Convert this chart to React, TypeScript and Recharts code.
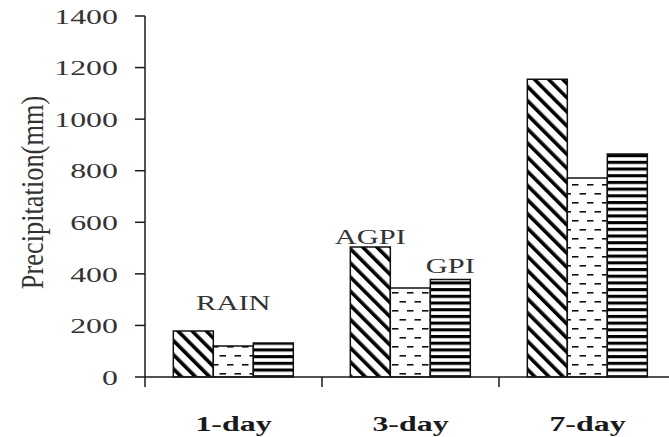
import React from "react";
import {
  BarChart,
  Bar,
  XAxis,
  YAxis,
  LabelList,
} from "recharts";

// values (mm)
const categories = ["1-day", "3-day", "7-day"];
const agpiValues = [178, 504, 1155];
const rainValues = [120, 345, 772];
const gpiValues = [132, 378, 865];
const yTicks = [0, 200, 400, 600, 800, 1000, 1200, 1400];

const data = categories.map((name, i) => ({
  name,
  AGPI: agpiValues[i],
  RAIN: rainValues[i],
  GPI: gpiValues[i],
}));

const FONT = '"Liberation Serif", "Times New Roman", serif';
const INK = "#1a1a1a";
const SOFT = "#333";
const STRETCH = 1.45; // the source image is widened horizontally

// where the in-chart series names sit (category index + lift above bar top)
const series = [
  { key: "AGPI", fill: "url(#diag)", labelAt: 1, lift: 3 },
  { key: "RAIN", fill: "url(#dash)", labelAt: 0, lift: 36 },
  { key: "GPI", fill: "url(#hstripe)", labelAt: 1, lift: 7 },
];

const YTick = ({ x, y, payload }: any) => (
  <g transform={`translate(${x},${y}) scale(${STRETCH},1)`}>
    <text textAnchor="end" dy="0.35em" fontFamily={FONT} fontSize={22} fill={SOFT}>
      {payload.value}
    </text>
  </g>
);

const XTick = ({ x, y, payload }: any) => {
  const half = payload.offset || 88.5;
  return (
    <g>
      <line x1={x - half} x2={x - half} y1={y} y2={y + 10} stroke={INK} strokeWidth={1.5} />
      <g transform={`translate(${x},${y + 54}) scale(${STRETCH},1)`}>
        <text textAnchor="middle" fontFamily={FONT} fontSize={22} fontWeight="bold" fill={INK}>
          {payload.value}
        </text>
      </g>
    </g>
  );
};

const YTitle = ({ viewBox }: any) => {
  const cy = viewBox.y + viewBox.height / 2 - 4;
  return (
    <g transform={`translate(${viewBox.x + 32},${cy}) scale(${STRETCH},1.2) rotate(-90)`}>
      <text textAnchor="middle" dy="0.33em" fontFamily={FONT} fontSize={22} fill={SOFT}>
        Precipitation(mm)
      </text>
    </g>
  );
};

const seriesLabel = (name: string, at: number, lift: number) => (props: any) => {
  const { x, y, width, index } = props;
  if (index !== at) return null;
  return (
    <g transform={`translate(${x + width / 2},${y - lift}) scale(${STRETCH},1)`}>
      <text textAnchor="middle" fontFamily={FONT} fontSize={21} fill={SOFT}>
        {name}
      </text>
    </g>
  );
};

export default function App() {
  return (
    <div
      style={{
        position: "fixed",
        left: 0,
        top: 0,
        width: 669,
        height: 437,
        overflow: "hidden",
        background: "#fff",
      }}
    >
      <BarChart
        width={690}
        height={437}
        data={data}
        margin={{ top: 16, right: 14, bottom: 0, left: 0 }}
        barCategoryGap="16%"
        barGap={0}
      >
        <defs>
          <pattern id="diag" patternUnits="userSpaceOnUse" width={10} height={10} patternTransform="rotate(-45)">
            <rect width={10} height={10} fill="#fff" />
            <rect width={3.6} height={10} fill="#000" />
          </pattern>
          <pattern id="dash" patternUnits="userSpaceOnUse" width={15} height={18}>
            <rect width={15} height={18} fill="#fff" />
            <rect x={2} y={4} width={6.5} height={1.6} fill="#111" />
            <rect x={9.5} y={13} width={6.5} height={1.6} fill="#111" />
            <rect x={-5.5} y={13} width={6.5} height={1.6} fill="#111" />
          </pattern>
          <pattern id="hstripe" patternUnits="userSpaceOnUse" width={10} height={6.7}>
            <rect width={10} height={6.7} fill="#fff" />
            <rect y={0} width={10} height={3.1} fill="#000" />
          </pattern>
        </defs>
        <XAxis
          dataKey="name"
          tick={<XTick />}
          tickLine={false}
          tickSize={0}
          tickMargin={0}
          height={60}
          axisLine={{ stroke: INK, strokeWidth: 1.5 }}
        />
        <YAxis
          domain={[0, 1400]}
          ticks={yTicks}
          interval={0}
          width={145}
          tickSize={10}
          tickMargin={17}
          tick={<YTick />}
          tickLine={{ stroke: INK, strokeWidth: 1.5 }}
          axisLine={{ stroke: INK, strokeWidth: 1.5 }}
          label={{ content: <YTitle /> }}
        />
        {series.map((s) => (
          <Bar
            key={s.key}
            dataKey={s.key}
            fill={s.fill}
            stroke="#111"
            strokeWidth={1.5}
            isAnimationActive={false}
          >
            <LabelList dataKey={s.key} content={seriesLabel(s.key, s.labelAt, s.lift)} />
          </Bar>
        ))}
      </BarChart>
    </div>
  );
}
